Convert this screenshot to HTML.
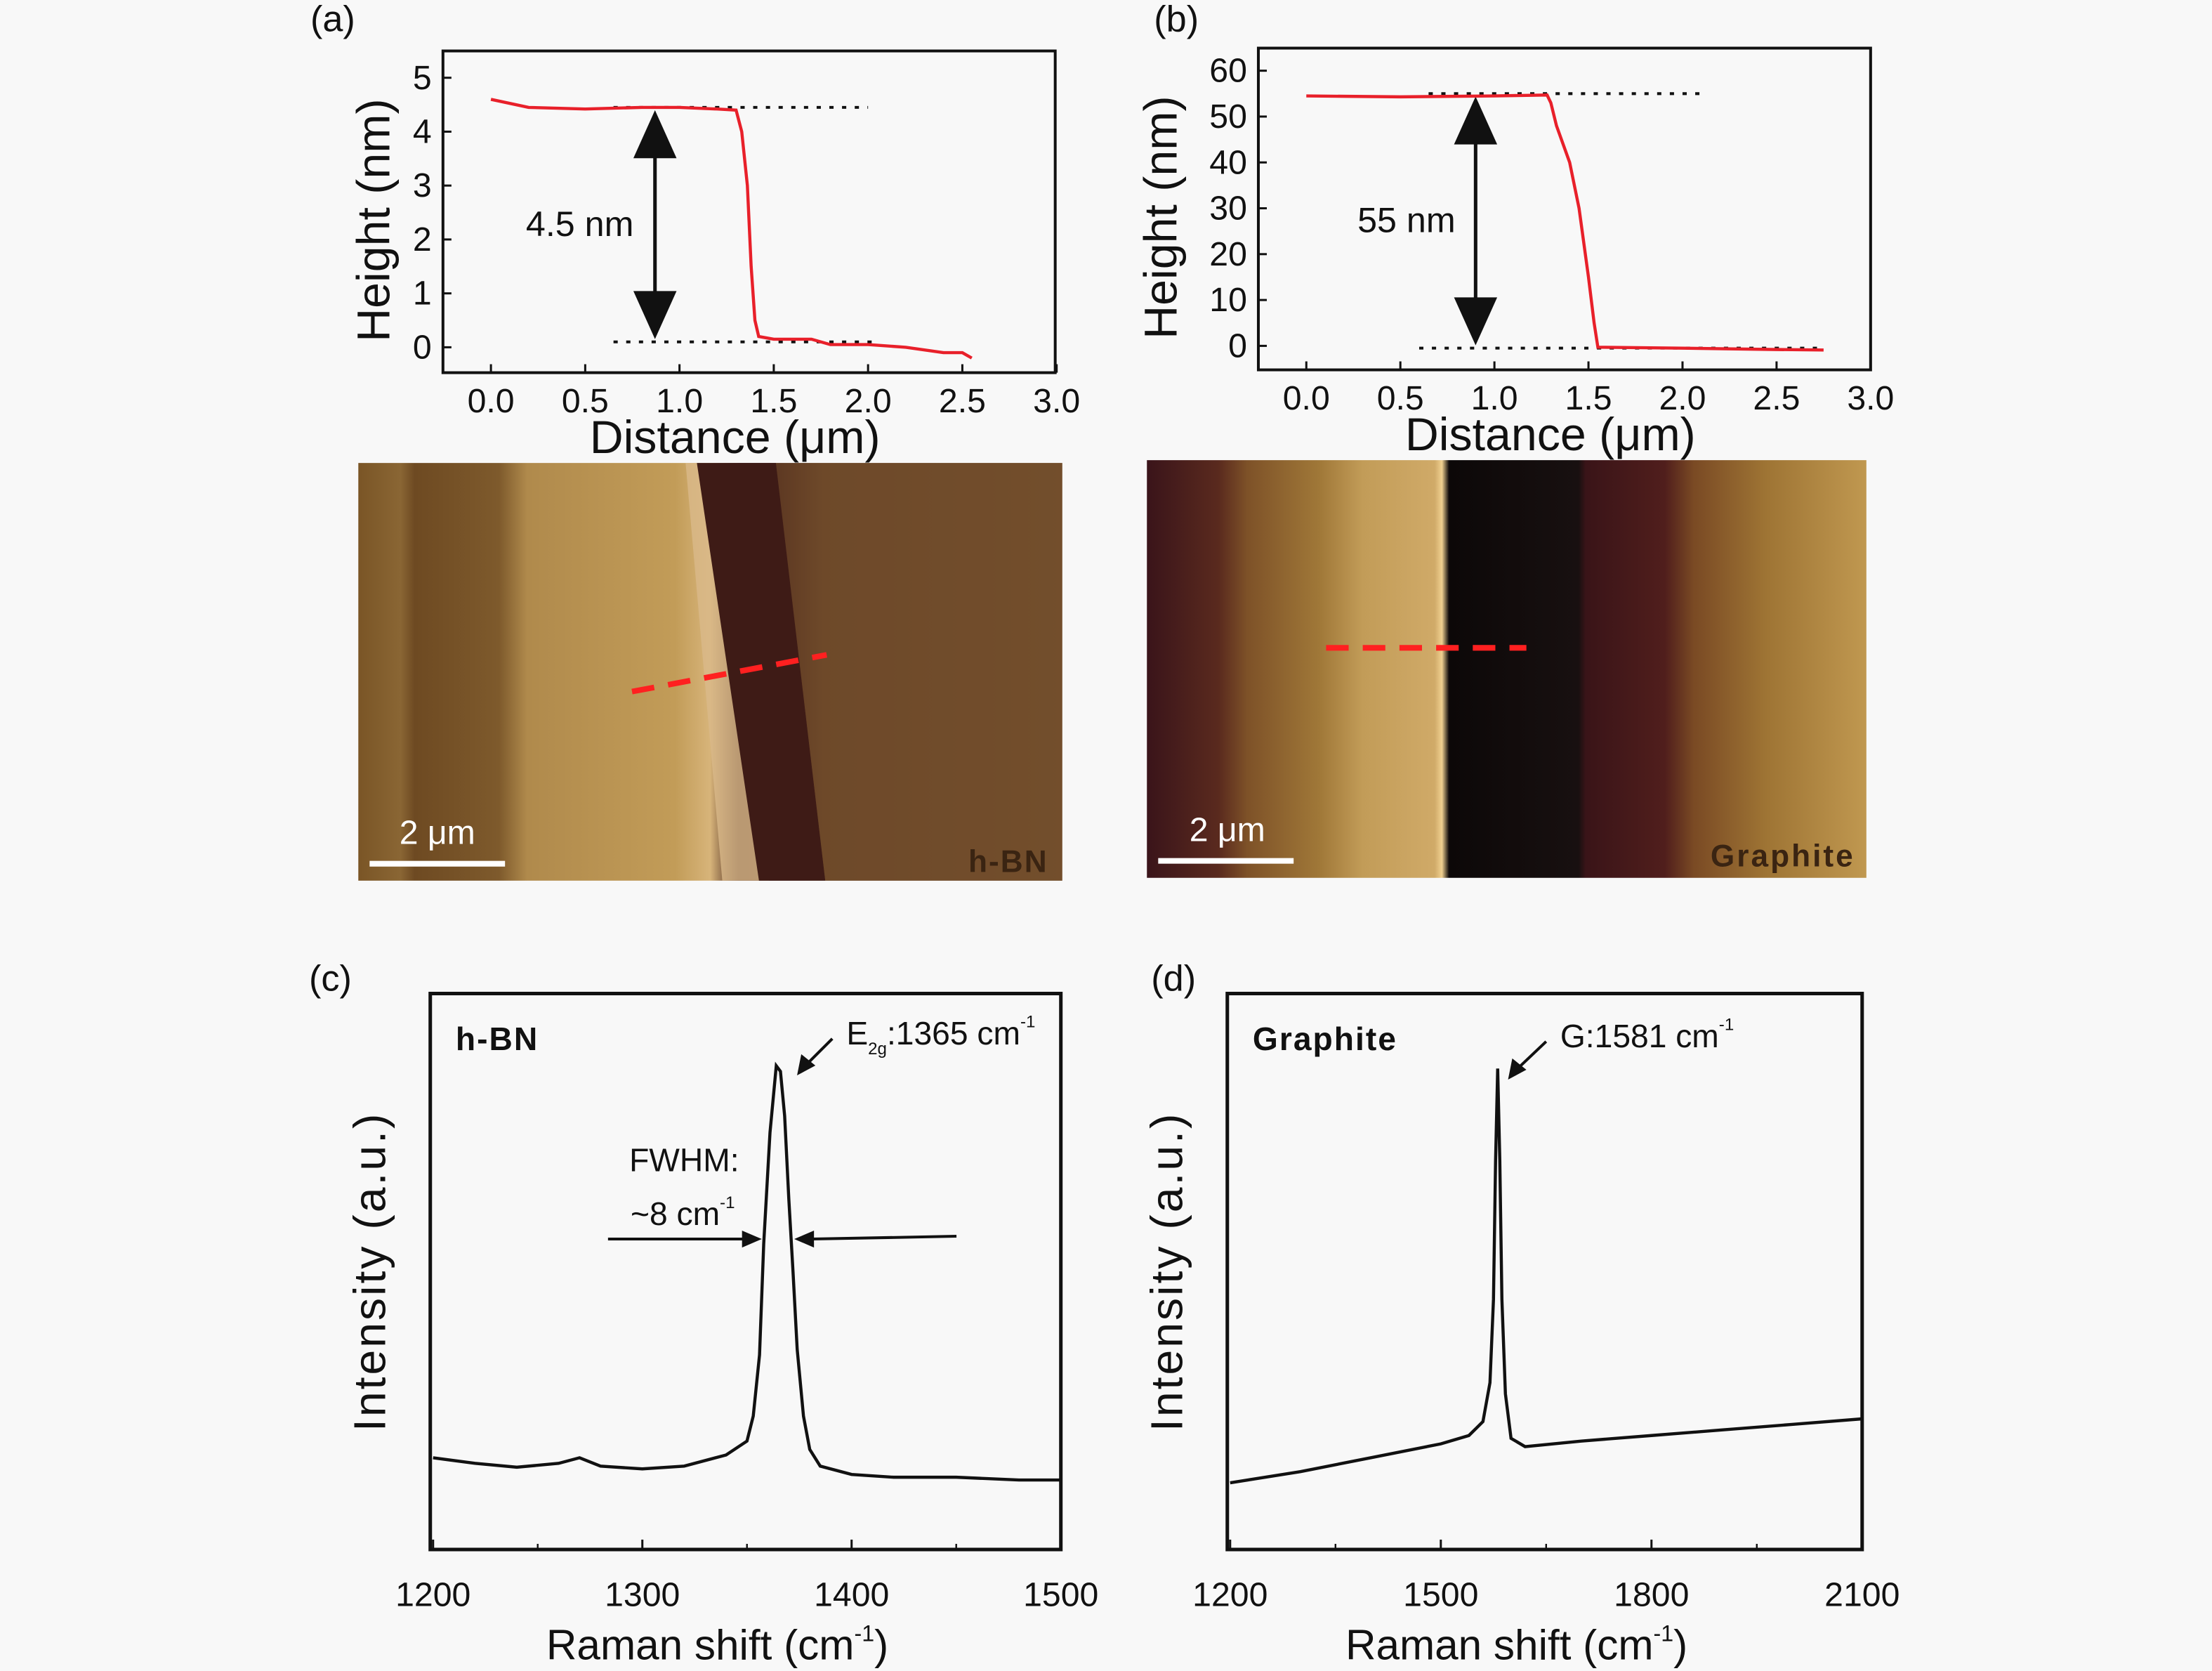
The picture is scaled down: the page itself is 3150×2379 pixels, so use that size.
<!DOCTYPE html>
<html><head><meta charset="utf-8"><style>
html,body{margin:0;padding:0;background:#f8f8f8}
svg{display:block;font-family:"Liberation Sans",sans-serif}
</style></head><body>
<svg id="fig" width="3150" height="2379" viewBox="0 0 1568 1184" xmlns="http://www.w3.org/2000/svg">
<defs>
<linearGradient id="gA" x1="0" x2="1" y1="0" y2="0">
<stop offset="0" stop-color="#7a5526"/><stop offset="0.06" stop-color="#8a6634"/><stop offset="0.08" stop-color="#6e4a22"/><stop offset="0.2" stop-color="#7e5a2c"/><stop offset="0.24" stop-color="#b08a4c"/><stop offset="0.45" stop-color="#c29c58"/><stop offset="0.5" stop-color="#d7b47a"/><stop offset="0.54" stop-color="#3c1a16"/><stop offset="0.6" stop-color="#4a241a"/><stop offset="0.66" stop-color="#6e4a2a"/><stop offset="1" stop-color="#7a5630"/>
</linearGradient>
<linearGradient id="gB" x1="0" x2="1" y1="0" y2="0">
<stop offset="0" stop-color="#3a141a"/><stop offset="0.1" stop-color="#5a2a1e"/><stop offset="0.14" stop-color="#7e5228"/><stop offset="0.24" stop-color="#a07838"/><stop offset="0.3" stop-color="#c29c58"/><stop offset="0.4" stop-color="#d0aa68"/><stop offset="0.41" stop-color="#f0d090"/><stop offset="0.42" stop-color="#0c0808"/><stop offset="0.6" stop-color="#181010"/><stop offset="0.61" stop-color="#3a1418"/><stop offset="0.72" stop-color="#501e1c"/><stop offset="0.76" stop-color="#7a4a24"/><stop offset="0.86" stop-color="#9e7434"/><stop offset="1" stop-color="#c09850"/>
</linearGradient>
</defs>
<g id="root"></g>
</svg>
<script>
// ---- data ----
const aDist=[0,0.2,0.5,0.8,1.0,1.2,1.3,1.33,1.36,1.38,1.40,1.42,1.5,1.7,1.8,2.0,2.2,2.4,2.5,2.55];
const aHeight=[4.6,4.45,4.42,4.45,4.45,4.42,4.4,4.0,3.0,1.5,0.5,0.2,0.15,0.15,0.05,0.05,0,-0.1,-0.1,-0.2];
const aXTicks=[0,0.5,1,1.5,2,2.5,3];
const aXTickLabels=["0.0","0.5","1.0","1.5","2.0","2.5","3.0"];
const aYTicks=[0,1,2,3,4,5];
const bDist=[0,0.5,1.0,1.28,1.3,1.33,1.4,1.45,1.5,1.53,1.55,2.0,2.5,2.75];
const bHeight=[54.5,54.3,54.5,54.7,53,48,40,30,15,5,-0.3,-0.5,-0.8,-0.9];
const bYTicks=[0,10,20,30,40,50,60];
const cShift=[1200,1220,1240,1260,1270,1280,1300,1320,1340,1350,1353,1356,1358,1361,1364,1366,1368,1370,1372,1374,1377,1380,1385,1400,1420,1450,1480,1500];
const cInt=[16.5,15.5,14.8,15.5,16.5,15,14.5,15,17,19.5,24,35,55,75,87,86,78,63,50,36,24,18,15,13.5,13,13,12.5,12.5];
const cXTicks=[1200,1300,1400,1500];
const dShift=[1200,1300,1400,1500,1540,1560,1570,1575,1578,1581,1584,1587,1592,1600,1620,1700,1800,1900,2000,2100];
const dInt=[12,14,16.5,19,20.5,23,30,45,70,86.5,70,45,28,20,18.5,19.5,20.5,21.5,22.5,23.5];
const dXTicks=[1200,1500,1800,2100];

const NS="http://www.w3.org/2000/svg";
const root=document.getElementById('root');
function mk(tag,attrs,parent,txt){const e=document.createElementNS(NS,tag);for(const k in attrs)e.setAttribute(k,attrs[k]);if(txt!==undefined)e.textContent=txt;(parent||root).appendChild(e);return e;}
function lin(d0,d1,r0,r1){return v=>r0+(v-d0)*(r1-r0)/(d1-d0);}
function path(xs,ys,sx,sy){return xs.map((v,i)=>(i?'L':'M')+sx(v).toFixed(2)+' '+sy(ys[i]).toFixed(2)).join(' ');}
function arrowHead(x,y,dir,g,s){
  const a={up:-90,down:90,left:180,right:0}[dir];const r=a*Math.PI/180;
  const L=s,W=s*0.45;const bx=x-L*Math.cos(r),by=y-L*Math.sin(r);
  const px=-Math.sin(r)*W,py=Math.cos(r)*W;
  const p=mk('polygon',{points:`${x},${y} ${bx+px},${by+py} ${bx-px},${by-py}`,fill:'#111'},g);
  
}

function heightPanel(id,box,xs,ys,yTicks,ymin,ymax,yTickPx,titleOff,dotTop,dotBot,arrowX,annot,annotX,panelLetter,letterX){
  const g=mk('g',{});
  const sx=lin(0,3,box.x0,box.x1);const sy=lin(ymin,ymax,yTickPx[0],yTickPx[1]);
  mk('rect',{x:box.x,y:box.y,width:box.w,height:box.h,fill:'none',stroke:'#111','stroke-width':2},g);
  aXTicks.forEach((t,i)=>{const x=sx(t);mk('line',{x1:x,x2:x,y1:box.y+box.h,y2:box.y+box.h-6,stroke:'#111','stroke-width':1.5},g);
    const tl=mk('text',{x:x,y:box.y+box.h+28,'font-size':24,'text-anchor':'middle',fill:'#111'},g,aXTickLabels[i]);});
  yTicks.forEach(t=>{const y=sy(t);mk('line',{x1:box.x,x2:box.x+6,y1:y,y2:y,stroke:'#111','stroke-width':1.5},g);
    const tl=mk('text',{x:box.x-8,y:y+8,'font-size':24,'text-anchor':'end',fill:'#111'},g,String(t));});
  const yt=mk('text',{transform:`translate(${box.x-titleOff},${box.y+box.h/2+6}) rotate(-90)`,'font-size':33,'text-anchor':'middle',fill:'#111'},g,'Height (nm)');
  const xt=mk('text',{x:box.x+box.w/2-10,y:box.y+box.h+57,'font-size':33,'text-anchor':'middle',fill:'#111'},g,'Distance (μm)');
  mk('line',{x1:sx(dotTop[0]),x2:sx(dotTop[1]),y1:sy(dotTop[2]),y2:sy(dotTop[2]),stroke:'#111','stroke-width':2,'stroke-dasharray':'3 6'},g);
  mk('line',{x1:sx(dotBot[0]),x2:sx(dotBot[1]),y1:sy(dotBot[2]),y2:sy(dotBot[2]),stroke:'#111','stroke-width':2,'stroke-dasharray':'3 6'},g);
  const ax=sx(arrowX),yA=sy(dotTop[2])+2,yB=sy(dotBot[2])-2;
  mk('line',{x1:ax,x2:ax,y1:yA+30,y2:yB-30,stroke:'#111','stroke-width':2.5},g);
  arrowHead(ax,yA,'up',g,34);arrowHead(ax,yB,'down',g,34);
  const at=mk('text',{x:annotX,y:(yA+yB)/2+8,'font-size':25,'text-anchor':'middle',fill:'#111'},g,annot);
  const ln=mk('path',{d:path(xs,ys,sx,sy),fill:'none',stroke:'#e8202a','stroke-width':2.2},g);
  const pl=mk('text',{x:letterX,y:22,'font-size':26,fill:'#111'},g,panelLetter);
}
heightPanel('panel-a',{x:314,y:36,w:434,h:228,x0:348,x1:749},aDist,aHeight,aYTicks,0,5,[246,55],38,[0.65,2.0,4.45],[0.65,2.05,0.1],0.87,'4.5 nm',411,'(a)',220);
heightPanel('panel-b',{x:892,y:34,w:434,h:228,x0:926,x1:1326},bDist,bHeight,bYTicks,0,60,[245,50],58,[0.65,2.1,55],[0.6,2.75,-0.5],0.9,'55 nm',997,'(b)',818);

// ---- AFM images ----
function afm(id,x,y,w,h,fill,name,dash){
  const g=mk('g',{});
  mk('rect',{x,y,width:w,height:h,fill},g);
  return g;
}
const gA=afm('afm-hbn',254,328,499,296,'url(#gA)','h-BN');
mk('polygon',{points:'486,328 500,328 545,624 512,624',fill:'#d9b98a',opacity:0.8},gA);
mk('polygon',{points:'494,328 550,328 585,624 538,624',fill:'#3e1b16'},gA);
mk('polygon',{points:'550,328 753,328 753,624 585,624',fill:'#6e4a2a',opacity:0.6},gA);
mk('line',{x1:448,y1:490,x2:586,y2:464,stroke:'#ff2020','stroke-width':4,'stroke-dasharray':'16 10'},gA);
mk('line',{x1:262,x2:358,y1:612,y2:612,stroke:'#fff','stroke-width':4},gA);
mk('text',{x:310,y:598,'font-size':24,'text-anchor':'middle',fill:'#fff'},gA,'2 μm');
mk('text',{x:743,y:618,'font-size':22,'font-weight':'bold','text-anchor':'end','letter-spacing':1,fill:'#3a2412'},gA,'h-BN');
const gB=afm('afm-graphite',813,326,510,296,'url(#gB)','Graphite');
mk('line',{x1:940,y1:459,x2:1082,y2:459,stroke:'#ff2020','stroke-width':4,'stroke-dasharray':'16 10'},gB);
mk('line',{x1:821,x2:917,y1:610,y2:610,stroke:'#fff','stroke-width':4},gB);
mk('text',{x:870,y:596,'font-size':24,'text-anchor':'middle',fill:'#fff'},gB,'2 μm');
mk('text',{x:1315,y:614,'font-size':22,'font-weight':'bold','text-anchor':'end','letter-spacing':1.5,fill:'#3a2412'},gB,'Graphite');

// ---- Raman panels ----
function raman(id,box,xs,ys,ticks,minorStep,xmin,xmax,letter,letterX,sample){
  const g=mk('g',{});
  const sx=lin(xmin,xmax,box.x+2,box.x+box.w);const sy=lin(0,100,box.y+box.h,box.y);
  mk('rect',{x:box.x,y:box.y,width:box.w,height:box.h,fill:'none',stroke:'#111','stroke-width':2.5},g);
  ticks.forEach(t=>{const x=sx(t);mk('line',{x1:x,x2:x,y1:box.y+box.h,y2:box.y+box.h-7,stroke:'#111','stroke-width':1.5},g);
    const tl=mk('text',{x:x,y:box.y+box.h+40,'font-size':24,'text-anchor':'middle',fill:'#111'},g,String(t));});
  for(let t=xmin+minorStep;t<xmax;t+=minorStep*2){const x=sx(t);mk('line',{x1:x,x2:x,y1:box.y+box.h,y2:box.y+box.h-4,stroke:'#111','stroke-width':1.2},g);}
  const xt=mk('text',{x:box.x+box.w/2-20,y:box.y+box.h+78,'font-size':30,'text-anchor':'middle',fill:'#111'},g);
  xt.appendChild(document.createTextNode('Raman shift (cm'));mk('tspan',{'font-size':16,dy:-13},xt,'-1');mk('tspan',{dy:13},xt,')');
  const yt=mk('text',{transform:`translate(${box.x-32},${box.y+box.h/2}) rotate(-90)`,'font-size':32,'letter-spacing':1.5,'text-anchor':'middle',fill:'#111'},g,'Intensity (a.u.)');
  mk('text',{x:letterX,y:box.y-2,'font-size':26,fill:'#111'},g,letter);
  mk('text',{x:box.x+18,y:box.y+40,'font-size':23,'font-weight':'bold','letter-spacing':1,fill:'#111'},g,sample);
  const ln=mk('path',{d:path(xs,ys,sx,sy),fill:'none',stroke:'#111','stroke-width':2.2},g);
  return {g,sx,sy};
}
const C=raman('panel-c',{x:305,y:704,w:447,h:394},cShift,cInt,cXTicks,50,1200,1500,'(c)',219,'h-BN');
const D=raman('panel-d',{x:870,y:704,w:450,h:394},dShift,dInt,dXTicks,150,1200,2100,'(d)',816,'Graphite');
mk('line',{x1:590,y1:736,x2:571,y2:755,stroke:'#111','stroke-width':2},C.g);
mk('polygon',{points:'565,762 568,747 578,755',fill:'#111'},C.g);
const e=mk('text',{x:600,y:740,'font-size':23,fill:'#111'},C.g);
e.appendChild(document.createTextNode('E'));mk('tspan',{'font-size':12,dy:7},e,'2g');mk('tspan',{dy:-7},e,':1365 cm');mk('tspan',{'font-size':12,dy:-12},e,'-1');
mk('text',{x:485,y:830,'font-size':23,'text-anchor':'middle',fill:'#111'},C.g,'FWHM:');
const f=mk('text',{x:447,y:868,'font-size':23,fill:'#111'},C.g,'~8 cm');mk('tspan',{'font-size':12,dy:-12},f,'-1');
mk('line',{x1:431,x2:528,y1:878,y2:878,stroke:'#111','stroke-width':2},C.g);
mk('polygon',{points:'540,878 526,872 526,884',fill:'#111'},C.g);
mk('line',{x1:575,x2:678,y1:878,y2:876,stroke:'#111','stroke-width':2},C.g);
mk('polygon',{points:'563,878 577,872 577,884',fill:'#111'},C.g);
mk('line',{x1:1096,y1:738,x2:1076,y2:757,stroke:'#111','stroke-width':2},D.g);
mk('polygon',{points:'1069,765 1072,750 1082,758',fill:'#111'},D.g);
const gl=mk('text',{x:1106,y:742,'font-size':23,fill:'#111'},D.g,'G:1581 cm');mk('tspan',{'font-size':12,dy:-12},gl,'-1');
</script>
</body></html>
